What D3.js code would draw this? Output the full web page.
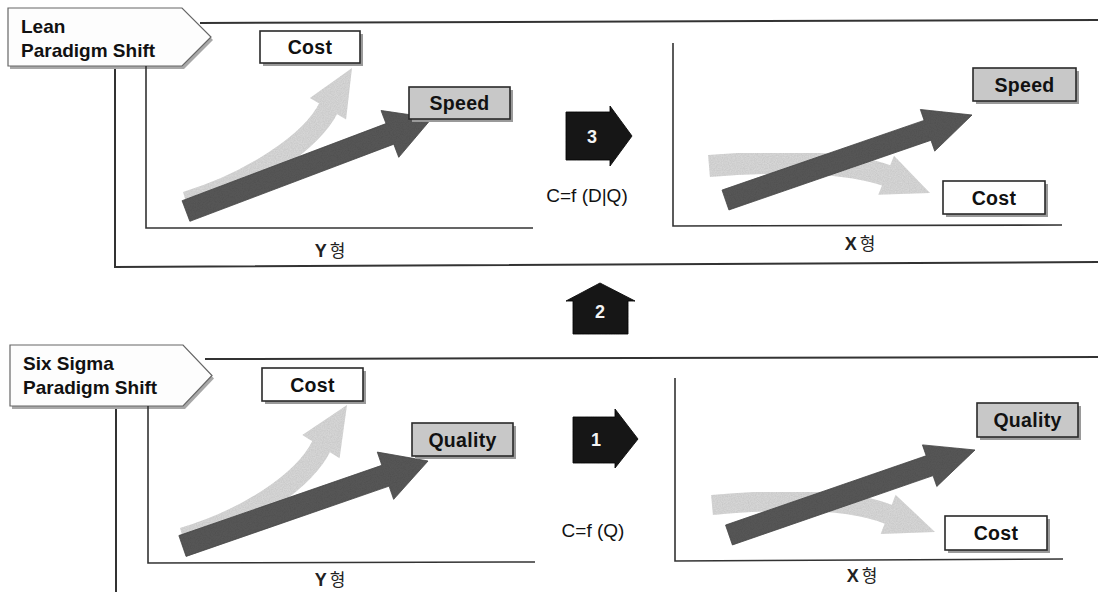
<!DOCTYPE html>
<html>
<head>
<meta charset="utf-8">
<script src="https://cdn.jsdelivr.net/npm/d3@7"></script>
<style>
  html, body { margin: 0; padding: 0; background: #fff; }
  svg { display: block; }
</style>
</head>
<body>
<svg id="diagram" width="1098" height="592"></svg>
<script>
// ---- Text content ----
const sectionTitles = [["Lean", "Paradigm Shift"], ["Six Sigma", "Paradigm Shift"]];
const targetLabels = ["Speed", "Quality"];
const costLabels = ["Cost", "Cost"];
const curveTypes = [["Y", "형"], ["X", "형"]];
const stepLabels = ["3", "2", "1"];
const formulas = ["C=f (D|Q)", "C=f (Q)"];

// ---- Layout of the two sections (pixel geometry) ----
const layout = [
  {
    tag: { x0: 8, y0: 8, x1: 182, tipX: 211, y1: 66 },
    frame: [[[200, 23], [1098, 20]], [[115, 66], [115, 267], [1098, 262]]],
    yAxis: [[146, 66], [146, 228], [533, 228]],
    xAxis: [[673, 43], [673, 226], [1062, 225]],
    costY: [260, 31, 100, 32], targetY: [409, 87, 101, 32],
    targetX: [973, 68, 103, 33], costX: [943, 181, 102, 33],
    typeY: [330, 257], typeX: [860, 250],
    lightY: { pts: [[186, 202], [250, 183], [312, 142], [329, 107]], tip: [352, 68], w: 21, head: 21 },
    darkY: { start: [186, 211], tip: [432, 118], w: 22, len: 45, head: 25 },
    lightX: { pts: [[709, 166], [780, 160], [850, 162], [888, 176]], tip: [930, 193], w: 22, head: 21 },
    darkX: { start: [725.5, 200], tip: [972, 115], w: 21, len: 47, head: 22 }
  },
  {
    tag: { x0: 10, y0: 345, x1: 183, tipX: 212, y1: 406 },
    frame: [[[205, 359], [1098, 357]], [[116, 406], [116, 592]]],
    yAxis: [[148, 406], [148, 563], [535, 562]],
    xAxis: [[675, 378], [675, 561], [1063, 559]],
    costY: [262, 368, 101, 33], targetY: [412, 423, 101, 33],
    targetX: [977, 403, 101, 34], costX: [945, 516, 102, 34],
    typeY: [330, 586], typeX: [862, 582],
    lightY: { pts: [[183, 538], [250, 518], [305, 480], [322, 445]], tip: [347, 405], w: 21, head: 22 },
    darkY: { start: [182.5, 546], tip: [428, 461], w: 22, len: 45, head: 25 },
    lightX: { pts: [[712, 505], [790, 498], [855, 500], [890, 515]], tip: [935, 532], w: 20, head: 21 },
    darkX: { start: [729, 535], tip: [975, 450], w: 21, len: 48, head: 22 }
  }
];

const FONT = "'Liberation Sans', Arial, Helvetica, sans-serif";
const CJK = "'Noto Sans CJK KR', 'Noto Sans CJK SC', sans-serif";
const INK = "#2a2a2a";

const svg = d3.select("#diagram");
const line = d3.line();
const polygon = d3.line().curve(d3.curveLinearClosed);

// Soft grain used on the big arrows
const defs = svg.append("defs");
const grain = defs.append("filter").attr("id", "grain")
  .attr("x", "-5%").attr("y", "-5%").attr("width", "110%").attr("height", "110%");
grain.append("feTurbulence").attr("type", "fractalNoise")
  .attr("baseFrequency", 0.85).attr("numOctaves", 2).attr("seed", 3).attr("result", "noise");
grain.append("feColorMatrix").attr("in", "noise").attr("type", "matrix")
  .attr("values", "0 0 0 0 0  0 0 0 0 0  0 0 0 0 0  0 0 0 0.22 0").attr("result", "dots");
grain.append("feComposite").attr("in", "dots").attr("in2", "SourceGraphic")
  .attr("operator", "in").attr("result", "dotsIn");
grain.append("feMerge").call(m => {
  m.append("feMergeNode").attr("in", "SourceGraphic");
  m.append("feMergeNode").attr("in", "dotsIn");
});
defs.append("filter").attr("id", "soft")
  .append("feGaussianBlur").attr("stdDeviation", 0.6);

const sub = (a, b) => [a[0] - b[0], a[1] - b[1]];
const add = (a, b) => [a[0] + b[0], a[1] + b[1]];
const mul = (a, k) => [a[0] * k, a[1] * k];
const unit = v => { const l = Math.hypot(v[0], v[1]); return [v[0] / l, v[1] / l]; };
const normal = d => [-d[1], d[0]];

function drawDarkArrow(g, a) {
  const d = unit(sub(a.tip, a.start));
  const n = normal(d);
  const base = sub(a.tip, mul(d, a.len));
  const hw = a.w / 2;
  const pts = [
    add(a.start, mul(n, hw)), add(base, mul(n, hw)), add(base, mul(n, a.head)),
    a.tip,
    add(base, mul(n, -a.head)), add(base, mul(n, -hw)), add(a.start, mul(n, -hw))
  ];
  g.append("path").attr("d", polygon(pts))
    .attr("fill", "#5a5a5a").attr("stroke", "#4a4a4a").attr("stroke-width", 0.8)
    .attr("filter", "url(#grain)");
}

function drawLightArrow(g, a) {
  const [p0, p1, p2, p3] = a.pts;
  const p = d3.path();
  p.moveTo(p0[0], p0[1]);
  p.bezierCurveTo(p1[0], p1[1], p2[0], p2[1], p3[0], p3[1]);
  const grp = g.append("g").attr("filter", "url(#grain)");
  grp.append("path").attr("d", p.toString())
    .attr("fill", "none").attr("stroke", "#dcdcdc").attr("stroke-width", a.w);
  const d = unit(sub(a.tip, p3));
  const n = normal(d);
  const base = sub(p3, mul(d, 2));
  grp.append("path")
    .attr("d", polygon([add(base, mul(n, a.head)), a.tip, add(base, mul(n, -a.head))]))
    .attr("fill", "#dcdcdc");
}

function drawBox(g, r, label, fill) {
  const [x, y, w, h] = r;
  g.append("rect").attr("x", x + 3).attr("y", y + 3).attr("width", w).attr("height", h)
    .attr("fill", "#9a9a9a").attr("filter", "url(#soft)");
  g.append("rect").attr("x", x).attr("y", y).attr("width", w).attr("height", h)
    .attr("fill", fill).attr("stroke", INK).attr("stroke-width", 1.6);
  g.append("text").attr("x", x + w / 2).attr("y", y + h / 2 + 7)
    .attr("text-anchor", "middle").attr("font-family", FONT).attr("font-weight", "bold")
    .attr("font-size", 19.5).attr("letter-spacing", 0.3).attr("fill", "#111").text(label);
}

function drawType(g, pos, parts) {
  const t = g.append("text").attr("x", pos[0]).attr("y", pos[1])
    .attr("text-anchor", "middle").attr("fill", "#222");
  t.append("tspan").attr("font-family", FONT).attr("font-weight", "bold")
    .attr("font-size", 18).text(parts[0]);
  t.append("tspan").attr("dx", 3).attr("font-family", CJK).attr("font-size", 17).text(parts[1]);
}

layout.forEach((L, i) => {
  const g = svg.append("g");

  // Outer frame of the section
  L.frame.forEach(seg => g.append("path").attr("d", line(seg))
    .attr("fill", "none").attr("stroke", "#333").attr("stroke-width", 2));

  // Pentagon title tag
  const t = L.tag, midY = (t.y0 + t.y1) / 2;
  const tagPts = [[t.x0, t.y0], [t.x1, t.y0], [t.tipX, midY], [t.x1, t.y1], [t.x0, t.y1]];
  g.append("path").attr("d", polygon(tagPts.map(p => [p[0] + 2, p[1] + 3])))
    .attr("fill", "#a8a8a8").attr("filter", "url(#soft)");
  g.append("path").attr("d", polygon(tagPts))
    .attr("fill", "#fdfdfd").attr("stroke", "#666").attr("stroke-width", 1.2);
  sectionTitles[i].forEach((s, k) => {
    g.append("text").attr("x", t.x0 + 13).attr("y", t.y0 + 25 + k * 24)
      .attr("font-family", FONT).attr("font-weight", "bold").attr("font-size", 19)
      .attr("fill", "#111").text(s);
  });

  // Mini axes of both curve panels
  [L.yAxis, L.xAxis].forEach(ax => g.append("path").attr("d", line(ax))
    .attr("fill", "none").attr("stroke", "#333").attr("stroke-width", 1.6));

  // Y-type panel: cost curving up, target straight
  drawLightArrow(g, L.lightY);
  drawDarkArrow(g, L.darkY);
  drawBox(g, L.costY, costLabels[i], "#ffffff");
  drawBox(g, L.targetY, targetLabels[i], "#c8c8c8");
  drawType(g, L.typeY, curveTypes[0]);

  // X-type panel: cost bending down, target rising
  drawLightArrow(g, L.lightX);
  drawDarkArrow(g, L.darkX);
  drawBox(g, L.targetX, targetLabels[i], "#c8c8c8");
  drawBox(g, L.costX, costLabels[i], "#ffffff");
  drawType(g, L.typeX, curveTypes[1]);
});

// ---- Step markers between the panels ----
const steps = svg.append("g");
const stepShapes = [
  // right-pointing block arrow: step 3
  { pts: [[566, 112], [610, 112], [610, 106], [632, 136], [610, 166], [610, 160], [566, 160]], label: [592, 143] },
  // upward house arrow: step 2
  { pts: [[573, 334], [573, 301], [566, 301], [600, 283], [635, 301], [628, 301], [628, 334]], label: [600, 318] },
  // right-pointing block arrow: step 1
  { pts: [[573, 417], [615, 417], [615, 409], [638, 439], [615, 468], [615, 463], [573, 463]], label: [596, 446] }
];
stepShapes.forEach((s, k) => {
  steps.append("path").attr("d", polygon(s.pts))
    .attr("fill", "#1f1f1f").attr("stroke", "#111").attr("stroke-width", 0.8)
    .attr("filter", "url(#grain)");
  steps.append("text").attr("x", s.label[0]).attr("y", s.label[1])
    .attr("text-anchor", "middle").attr("font-family", FONT).attr("font-weight", "bold")
    .attr("font-size", 18).attr("fill", "#f4f4f4").text(stepLabels[k]);
});

// Cost-function formulas
const formulaPos = [[587, 202], [593, 537]];
formulas.forEach((f, k) => {
  steps.append("text").attr("x", formulaPos[k][0]).attr("y", formulaPos[k][1])
    .attr("text-anchor", "middle").attr("font-family", FONT).attr("font-size", 19)
    .attr("fill", "#111").text(f);
});
</script>
</body>
</html>
